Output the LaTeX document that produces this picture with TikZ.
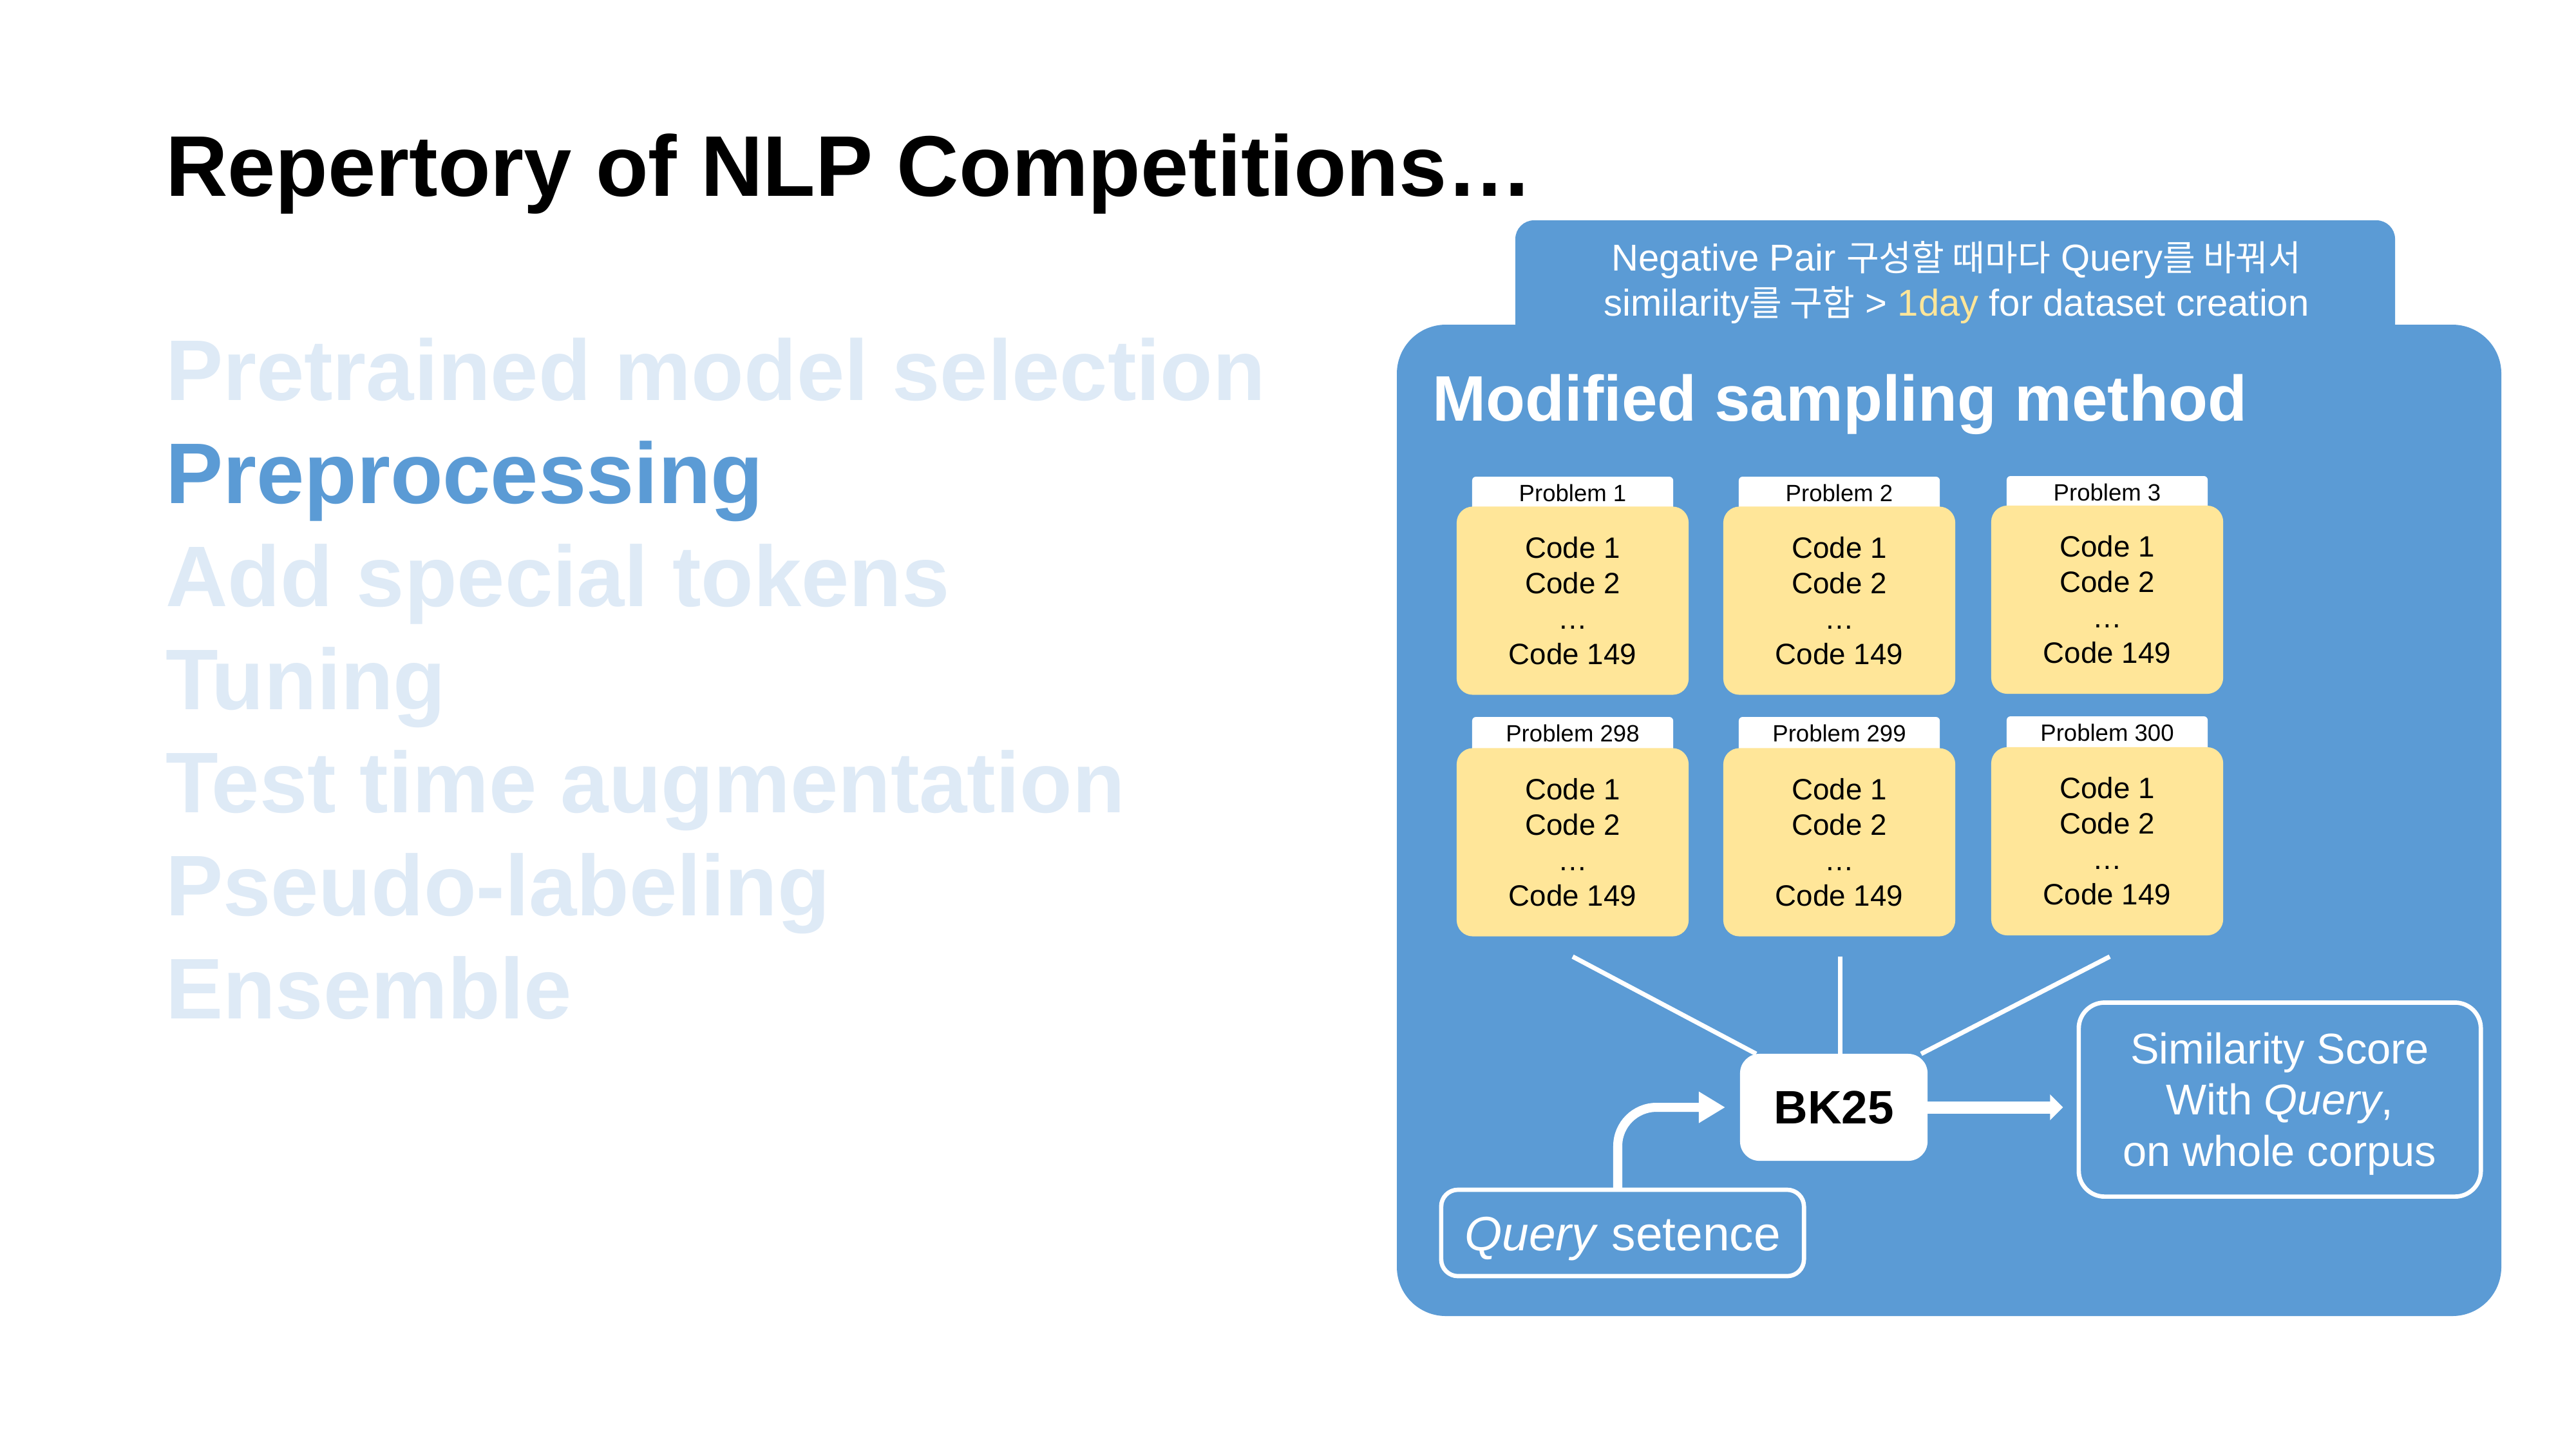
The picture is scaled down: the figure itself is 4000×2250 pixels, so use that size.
\documentclass[tikz,border=0pt]{standalone}
\usepackage{fontspec}
\setmainfont{Liberation Sans}
\newfontfamily\kr[Scale=0.95]{Noto Sans CJK KR}
\usetikzlibrary{arrows.meta}
\definecolor{panelblue}{HTML}{5B9BD5}
\definecolor{codeyellow}{HTML}{FFE699}
\definecolor{fadedblue}{HTML}{DEEAF6}
\begin{document}
\begin{tikzpicture}[x=0.01cm,y=-0.01cm,
  every node/.style={inner sep=0pt, outer sep=0pt},
  headline/.style={anchor=base west, font=\bfseries\fontsize{38}{46}\selectfont},
  listitem/.style={headline, text=fadedblue},
  tabtext/.style={anchor=base, text=white, font=\fontsize{16.5}{19}\selectfont},
  codebox/.style={rectangle, rounded corners=0.25cm, fill=codeyellow, minimum width=3.6cm, minimum height=2.92cm, align=center, font=\fontsize{13}{15.65}\selectfont},
  probtab/.style={rectangle, rounded corners=0.06cm, fill=white, anchor=north, minimum width=3.12cm, text height=10.8pt, text depth=6.3pt, font=\fontsize{10.4}{12}\selectfont},
  outlinebox/.style={rectangle, draw=white, line width=1.9pt, text=white, align=center},
  link/.style={draw=white, line width=2pt},
  bigarrow/.style={draw=white, line width=5.4pt, -{Triangle[width=11.1pt, length=5.7pt]}},
  bentarrow/.style={draw=white, line width=4pt, rounded corners=0.6cm, -{Triangle[width=13.1pt, length=11.7pt]}}
]
\useasboundingbox (0,0) rectangle (4000,2250);
\fill[white] (0,0) rectangle (4000,2250);

% left column
\node[headline] (title) at (257,304) {Repertory of NLP Competitions…};
\node[listitem] (l1) at (257,621) {Pretrained model selection};
\node[headline, text=panelblue] (l2) at (257,781) {Preprocessing};
\node[listitem] (l3) at (257,941) {Add special tokens};
\node[listitem] (l4) at (257,1101) {Tuning};
\node[listitem] (l5) at (257,1261) {Test time augmentation};
\node[listitem] (l6) at (257,1421) {Pseudo-labeling};
\node[listitem] (l7) at (257,1581) {Ensemble};

% panel
\fill[panelblue, rounded corners=0.29cm] (2353,342) rectangle (3719,700);
\fill[panelblue, rounded corners=0.76cm] (2169,504) rectangle (3884,2043);

\node[tabtext] (tab1) at (3038,420) {Negative Pair {\kr 구성할 때마다} Query{\kr 를 바꿔서}};
\node[tabtext] (tab2) at (3038,490) {similarity{\kr 를 구함} > \textcolor{codeyellow}{1day} for dataset creation};

\node[anchor=base west, text=white, font=\bfseries\fontsize{28.4}{34}\selectfont] (ptitle) at (2224,653) {Modified sampling method};

% problem tabs
\node[probtab] (t1) at (2442,740) {Problem 1};
\node[probtab] (t2) at (2856,740) {Problem 2};
\node[probtab] (t3) at (3272,739) {Problem 3};
\node[probtab] (t4) at (2442,1113) {Problem 298};
\node[probtab] (t5) at (2856,1113) {Problem 299};
\node[probtab] (t6) at (3272,1112) {Problem 300};

% code boxes
\node[codebox] (b1) at (2442,932.5) {Code 1\\Code 2\\…\\Code 149};
\node[codebox] (b2) at (2856,932.5) {Code 1\\Code 2\\…\\Code 149};
\node[codebox] (b3) at (3272,931) {Code 1\\Code 2\\…\\Code 149};
\node[codebox] (b4) at (2442,1307.5) {Code 1\\Code 2\\…\\Code 149};
\node[codebox] (b5) at (2856,1307.5) {Code 1\\Code 2\\…\\Code 149};
\node[codebox] (b6) at (3272,1306) {Code 1\\Code 2\\…\\Code 149};

% BK25
\node[rectangle, fill=white, rounded corners=0.3cm, minimum width=2.91cm, minimum height=1.66cm, font=\bfseries\fontsize{20.7}{24}\selectfont] (bk) at (2847.5,1719) {BK25};

\coordinate (c1) at (2442,1485);
\coordinate (c2) at (2857,1485);
\coordinate (c3) at (3276,1485);
\draw[link] (c1) -- ([xshift=0.25cm]bk.north west);
\draw[link] (c2) -- (c2 |- bk.north);
\draw[link] (c3) -- ([xshift=-0.1cm]bk.north east);

% result box
\node[outlinebox, rounded corners=0.4cm, minimum width=6.24cm, minimum height=3.01cm, font=\fontsize{19}{22.6}\selectfont] (sim) at (3540,1707) {\rule{0pt}{17.3pt}Similarity Score\\With \textit{Query},\\on whole corpus};

% query box
\node[outlinebox, rounded corners=0.26cm, minimum width=5.63cm, minimum height=1.34cm, text height=15.6pt, text depth=0pt, font=\fontsize{21.3}{25}\selectfont] (q) at (2519.5,1914) {\textit{Query} setence};

\draw[bigarrow] (bk.east) -- ([xshift=-0.245cm]bk.east -| sim.west);
\draw[bentarrow] ([xshift=-0.075cm]q.north) |- ([xshift=-0.23cm]bk.west);
\end{tikzpicture}
\end{document}
